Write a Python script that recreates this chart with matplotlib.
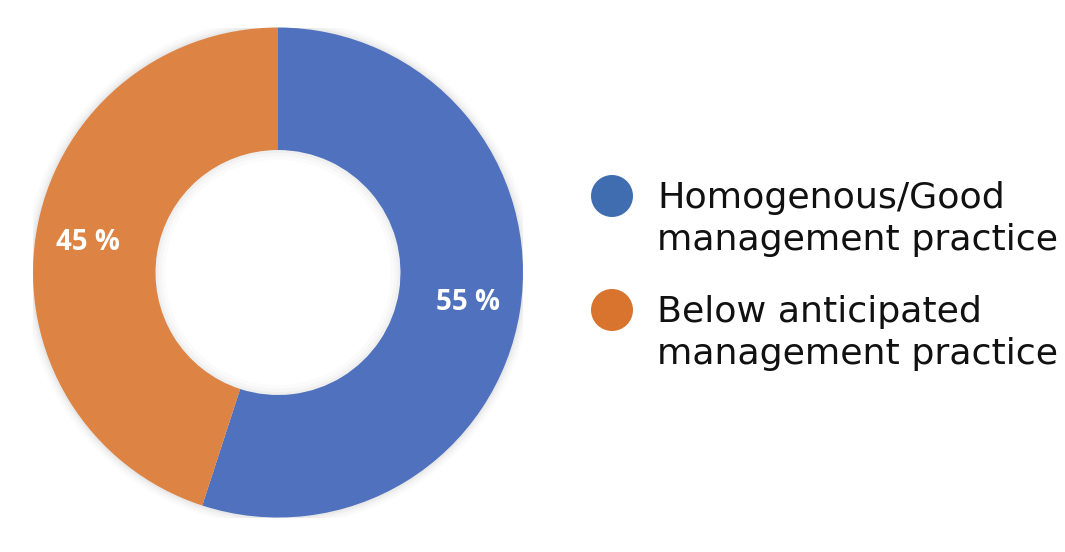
import matplotlib.pyplot as plt
import numpy as np
from matplotlib.patches import Circle, Wedge

# ---------------------------------------------------------------- data -----
categories = ["Homogenous/Good\nmanagement practice",
              "Below anticipated\nmanagement practice"]
shares = [55, 45]
pct_labels = ["55 %", "45 %"]

# ---------------------------------------------------------------- style ----
WEDGE_COLORS = ["#4F71BE", "#DD8344"]
LEGEND_COLORS = ["#3F6DB0", "#D9742F"]
W, H = 1065, 552

fig = plt.figure(figsize=(W / 100, H / 100), dpi=100)
fig.patch.set_facecolor("white")

# donut centred at (278, 272) px, outer radius 245 px
cx, cy, r = 278, 272.5, 245
ax = fig.add_axes([(cx - r) / W, (H - cy - r) / H, 2 * r / W, 2 * r / H])
ax.set_aspect("equal")

# soft shadow around the ring
for k, a in zip([1.035, 1.025, 1.015, 1.007], [0.03, 0.04, 0.05, 0.06]):
    ax.add_patch(Circle((0, 0), k, color="#808080", alpha=a, lw=0, zorder=0))
# keep the hole white, with a faint inner shade at its rim
ax.add_patch(Circle((0, 0), 0.5, color="white", lw=0, zorder=1))
for wd, a in zip([0.04, 0.025, 0.012], [0.03, 0.04, 0.05]):
    ax.add_patch(Wedge((0, 0), 0.5, 0, 360, width=wd, color="#808080",
                       alpha=a, lw=0, zorder=1.5))

wedges, _ = ax.pie(shares, colors=WEDGE_COLORS, startangle=90, counterclock=False,
                   radius=1.0, wedgeprops=dict(width=0.5, linewidth=0))
for w in wedges:
    w.set_zorder(2)

# percentage labels at the middle of each wedge
start = 90.0
for val, lab in zip(shares, pct_labels):
    ang = np.deg2rad(start - val / 100 * 360 / 2)
    start -= val / 100 * 360
    ax.text(0.785 * np.cos(ang), 0.785 * np.sin(ang), lab, ha="center", va="center",
            color="white", fontsize=20, fontweight="bold", family="Open Sans", zorder=3)

ax.set_xlim(-1, 1)
ax.set_ylim(-1, 1)
ax.axis("off")

# ---------------------------------------------------------------- legend ---
lax = fig.add_axes([0, 0, 1, 1])
lax.set_xlim(0, W)
lax.set_ylim(H, 0)
lax.axis("off")
for i, (cat, col) in enumerate(zip(categories, LEGEND_COLORS)):
    y0 = 196 + i * 114
    lax.add_patch(Circle((612, y0), 21, color=col, lw=0))
    lax.text(657, y0 + 23, cat, ha="left", va="center", fontsize=26.2,
             family="DejaVu Sans", color="#111111", linespacing=1.33)

fig.savefig("out.png", dpi=100, facecolor="white")
